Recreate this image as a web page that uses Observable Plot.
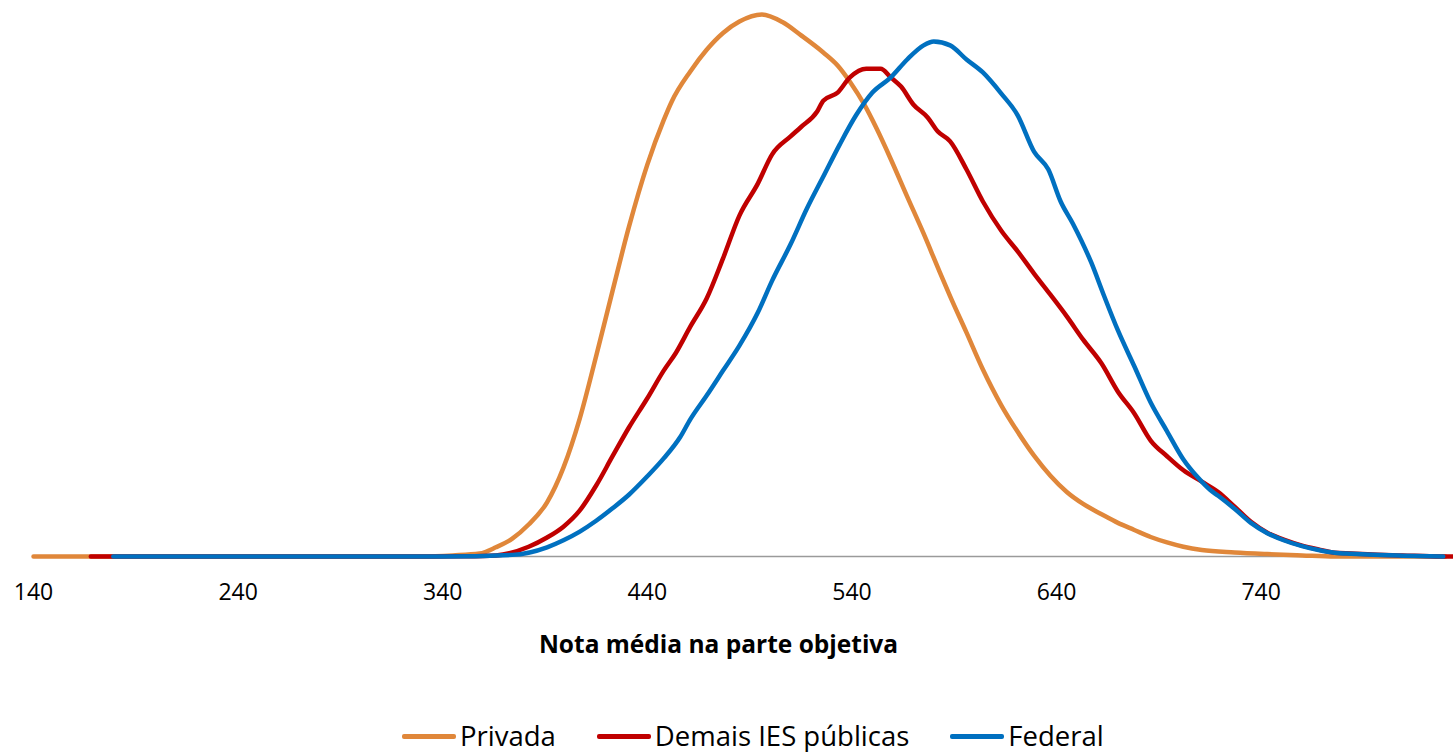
<!DOCTYPE html>
<html>
<head>
<meta charset="utf-8">
<script src="https://cdn.jsdelivr.net/npm/d3@7"></script>
<script src="https://cdn.jsdelivr.net/npm/@observablehq/plot@0.6"></script>
<style>
  html, body { margin: 0; padding: 0; background: #fff; }
  #wrap { position: relative; width: 1453px; height: 752px; font-family: "Open Sans", sans-serif; }
  #legend { position: absolute; top: 723px; left: 402px; display: flex; align-items: center; font-size: 27.5px; line-height: 26px; color: #000; }
  .item { display: flex; align-items: center; margin-right: 41px; }
  .sw { width: 54px; height: 5px; border-radius: 2px; margin-right: 4px; }
</style>
</head>
<body>
<div id="wrap"></div>
<script>
const seriesNames = ["Privada", "Demais IES públicas", "Federal"];
const seriesColors = ["#E0873A", "#C00000", "#0070C0"];
const xTicks = [140, 240, 340, 440, 540, 640, 740];
const xLabel = "Nota média na parte objetiva";

const privadaScore = [140,330,345,358,366,374,382,391,399,407,415,423,431,440,448,452,461,469,477,485,496,506,515,526,533,539,546,552,559,567,575,582,588,596,604,613,621,629,637,645,653,662,670,678,686,694,702,711,727,743,760,776,830];
const privadaDens  = [0,0,0.2,0.55,1.7,3.3,5.9,10.0,16.4,25.5,37.0,49.0,60.8,72.3,80.5,84.0,89.5,93.5,96.6,98.7,100,98.6,96.2,93.0,90.6,87.6,83.4,79.0,73.3,66.4,59.6,53.3,48.0,41.3,34.5,27.9,23.0,18.6,14.9,11.9,9.7,7.8,6.2,4.9,3.6,2.6,1.8,1.2,0.75,0.45,0.2,0,0];

const demaisScore = [168,330,350,366,382,391,399,407,415,423,431,440,448,454,461,469,477,485,494,501,510,515,523,526,533,539,547,554,559,564,570,577,582,588,596,604,613,621,629,637,645,653,662,670,678,686,694,702,711,719,727,735,743,751,760,768,776,784,792,809,828,834];
const demaisDens  = [0,0,0.05,0.2,1.8,3.5,5.5,8.5,13.1,18.5,23.8,29.2,34.3,37.6,42.4,47.6,55.0,62.9,68.8,74.2,77.5,79.2,82.1,84.1,85.6,88.4,90.0,90.0,88.4,86.7,83.4,81.0,78.4,76.6,71.4,65.5,60.1,56.3,52.2,48.3,44.3,40.0,35.6,30.4,26.4,21.4,18.5,15.9,13.8,11.9,9.2,6.4,4.4,3.1,2.0,1.3,0.7,0.55,0.4,0.2,0,0];

const federalScore = [179,340,374,391,399,407,415,423,431,440,448,456,461,469,477,485,494,501,510,518,526,534,542,550,559,567,575,580,588,596,604,613,621,629,636,642,648,657,663,670,678,686,694,702,709,715,719,727,735,743,751,760,768,776,784,792,809,829];
const federalDens  = [0,0,0.3,1.7,3.0,4.6,6.6,8.9,11.4,14.8,18.1,22.0,25.3,29.7,34.3,38.9,45.0,50.9,57.6,64.2,70.1,76.0,81.4,85.6,88.4,91.7,94.3,95.0,94.3,91.7,89.3,85.4,81.4,74.7,71.4,65.5,61.4,54.2,48.3,41.7,35.1,28.4,23.1,17.9,14.6,12.3,11.2,8.8,6.2,4.3,3.0,1.9,1.2,0.7,0.5,0.35,0.15,0];

const toRows = (sc, de) => sc.map((s, i) => ({score: s, dens: de[i]}));
const rows = [toRows(privadaScore, privadaDens), toRows(demaisScore, demaisDens), toRows(federalScore, federalDens)];

const plot = Plot.plot({
  width: 1453,
  height: 710,
  marginLeft: 33,
  marginRight: 0,
  marginTop: 14,
  marginBottom: 154,
  style: {fontFamily: "'Open Sans', sans-serif", fontSize: "23px", color: "#000", background: "#fff"},
  x: {domain: [140, 834], ticks: xTicks, tickSize: 0, tickPadding: 27, label: null, tickFormat: d => String(d)},
  y: {domain: [0, 100], axis: null},
  marks: [
    Plot.ruleY([0], {stroke: "#9a9a9a", strokeWidth: 1.5}),
    ...rows.map((r, i) => Plot.line(r, {x: "score", y: "dens", stroke: seriesColors[i], strokeWidth: 4.5, curve: "monotone-x"})),
    Plot.text([xLabel], {frameAnchor: "bottom", lineAnchor: "middle", dy: 89, dx: -25, fontSize: 24.5, fontWeight: "bold", fill: "#000"})
  ]
});
const wrap = document.getElementById("wrap");
wrap.appendChild(plot);

const legend = document.createElement("div");
legend.id = "legend";
seriesNames.forEach((n, i) => {
  const it = document.createElement("div");
  it.className = "item";
  const sw = document.createElement("span");
  sw.className = "sw";
  sw.style.background = seriesColors[i];
  const tx = document.createElement("span");
  tx.textContent = n;
  it.appendChild(sw); it.appendChild(tx);
  legend.appendChild(it);
});
wrap.appendChild(legend);
</script>
</body>
</html>
